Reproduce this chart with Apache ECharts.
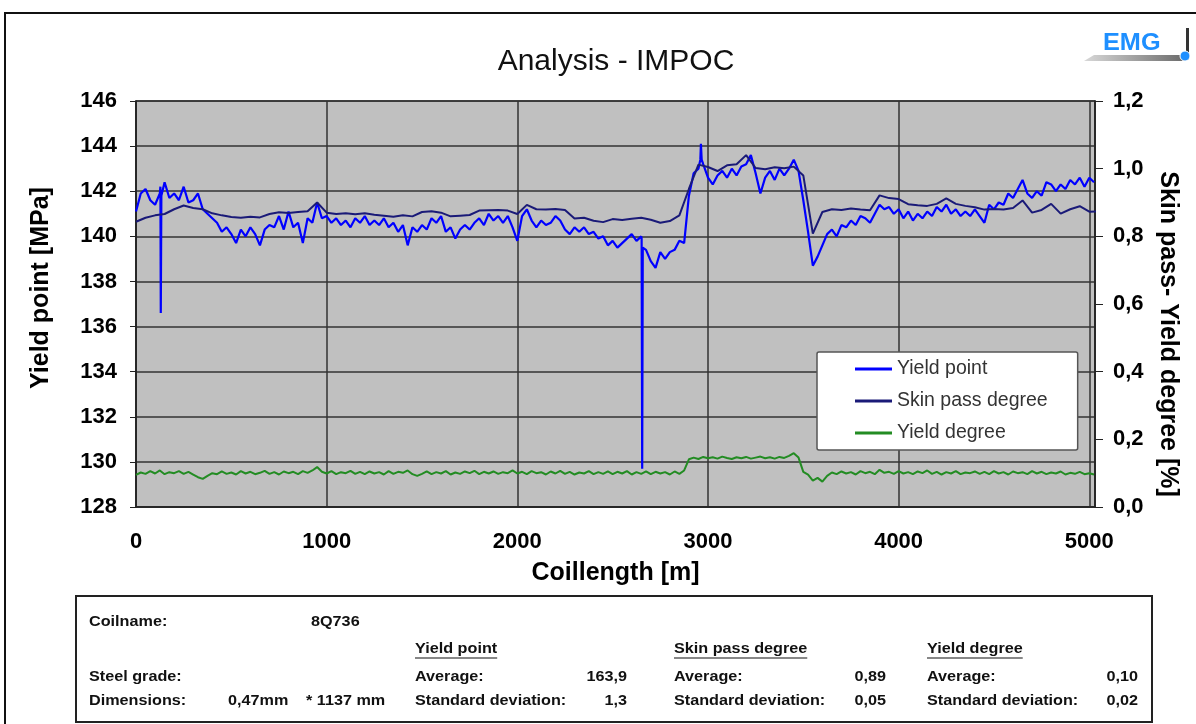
<!DOCTYPE html>
<html>
<head>
<meta charset="utf-8">
<title>Analysis - IMPOC</title>
<script src="https://cdn.jsdelivr.net/npm/echarts@6/dist/echarts.min.js"></script>
<style>
  html, body { margin: 0; padding: 0; background: #fff; }
  #chart { width: 1196px; height: 724px; }
</style>
</head>
<body>
<div id="chart"></div>
<script>
// coil length step of the sampled series [m]
const YP_STEP = 25;
const SP_STEP = 50;
const YD_STEP = 25;

// Yield point [MPa], one value every 25 m
const yieldPoint = [
  141.1, 141.9, 142.1, 141.6, 141.4, 141.9, 142.4, 141.7, 141.9, 141.6,
  142.2, 141.5, 141.6, 141.9, 141.2, 141.0, 140.8, 140.6, 140.2, 140.4,
  140.1, 139.7, 140.3, 140.0, 140.4, 140.1, 139.6, 140.3, 140.5, 140.4,
  140.9, 140.3, 141.1, 140.4, 140.6, 139.7, 140.8, 140.6, 141.5, 140.8,
  140.9, 140.6, 140.8, 140.5, 140.7, 140.4, 140.8, 140.6, 140.9, 140.5,
  140.7, 140.5, 140.8, 140.4, 140.6, 140.2, 140.5, 139.6, 140.4, 140.2,
  140.5, 140.3, 140.8, 140.6, 140.9, 140.2, 140.4, 139.9, 140.3, 140.5,
  140.3, 140.6, 140.8, 140.5, 141.0, 140.7, 140.9, 140.6, 140.9, 140.4,
  139.8, 140.9, 141.2, 140.7, 140.4, 140.7, 140.5, 140.6, 140.9, 140.7,
  140.3, 140.1, 140.4, 140.2, 140.4, 140.1, 140.2, 139.9, 140.0, 139.6,
  139.8, 139.5, 139.7, 139.9, 140.1, 139.8, 140.0, 139.4, 138.9, 138.6,
  139.3, 139.0, 139.3, 139.4, 139.8, 139.7, 141.8, 142.8, 143.0, 143.2,
  142.6, 142.3, 142.7, 142.9, 142.6, 143.0, 142.7, 143.1, 143.2, 143.6,
  142.8, 141.9, 142.6, 142.9, 142.5, 143.0, 142.7, 143.0, 143.4, 142.9,
  141.6, 140.2, 138.7, 139.1, 139.6, 140.1, 140.3, 140.0, 140.5, 140.4,
  140.7, 140.5, 140.9, 140.8, 140.6, 141.0, 141.4, 141.2, 141.3, 141.0,
  141.2, 140.8, 141.1, 140.7, 141.0, 140.8, 141.1, 140.9, 141.3, 141.1,
  141.4, 141.0, 141.2, 140.9, 141.1, 140.9, 141.2, 140.9, 140.6, 141.4,
  141.2, 141.5, 141.4, 141.9, 141.7, 142.1, 142.5, 141.9, 141.7, 142.0,
  141.8, 142.4, 142.3, 142.0, 142.3, 142.1, 142.5, 142.3, 142.6, 142.2,
  142.6, 142.4
];
// narrow spikes of the yield point signal: [coil length m, MPa]
const yieldPointSpikes = [
  [128, 142.2], [130, 136.6], [133, 141.8],
  [2652, 139.9], [2655, 129.7], [2658, 139.5],
  [2960, 143.4], [2963, 144.1], [2967, 143.4]
];

// Skin pass degree [%], one value every 50 m
const skinPass = [
  0.843, 0.855, 0.862, 0.866, 0.880, 0.891, 0.884, 0.880, 0.868, 0.862,
  0.857, 0.855, 0.858, 0.856, 0.866, 0.871, 0.869, 0.872, 0.874, 0.900,
  0.870, 0.866, 0.868, 0.865, 0.868, 0.864, 0.861, 0.858, 0.862, 0.859,
  0.872, 0.874, 0.870, 0.859, 0.861, 0.863, 0.876, 0.877, 0.878, 0.876,
  0.866, 0.893, 0.880, 0.879, 0.881, 0.878, 0.853, 0.855, 0.846, 0.842,
  0.851, 0.848, 0.852, 0.855, 0.849, 0.840, 0.845, 0.862, 0.940, 1.012,
  1.005, 0.993, 1.010, 1.013, 1.040, 1.002, 0.998, 1.004, 1.001, 1.006,
  0.980, 0.808, 0.872, 0.880, 0.878, 0.882, 0.879, 0.877, 0.921, 0.913,
  0.910, 0.895, 0.892, 0.890, 0.896, 0.912, 0.896, 0.890, 0.886, 0.879,
  0.881, 0.879, 0.884, 0.906, 0.870, 0.878, 0.896, 0.867, 0.880, 0.889,
  0.873, 0.874
];

// Yield degree [%], one value every 25 m
const yieldDegree = [
  0.095, 0.102, 0.098, 0.106, 0.099, 0.108, 0.097, 0.103, 0.100, 0.106,
  0.098, 0.104, 0.096, 0.088, 0.083, 0.092, 0.100, 0.097, 0.105, 0.098,
  0.102, 0.096, 0.106, 0.099, 0.104, 0.097, 0.101, 0.107, 0.098, 0.103,
  0.096, 0.105, 0.100, 0.104, 0.097, 0.106, 0.101, 0.108, 0.118, 0.104,
  0.099, 0.106, 0.097, 0.103, 0.100, 0.107, 0.098, 0.104, 0.097, 0.105,
  0.099, 0.103, 0.096, 0.106, 0.098, 0.104, 0.101, 0.108, 0.097, 0.092,
  0.098, 0.105, 0.097, 0.103, 0.099, 0.106, 0.096, 0.102, 0.098, 0.105,
  0.100, 0.107, 0.097, 0.104, 0.099, 0.105, 0.098, 0.103, 0.100, 0.108,
  0.099, 0.104, 0.097, 0.106, 0.100, 0.103, 0.096, 0.105, 0.099, 0.107,
  0.098, 0.104, 0.096, 0.102, 0.099, 0.106, 0.097, 0.103, 0.098, 0.105,
  0.097, 0.104, 0.099, 0.106, 0.096, 0.103, 0.098, 0.105, 0.097, 0.104,
  0.099, 0.103, 0.096, 0.105, 0.098, 0.108,
  0.141,
  0.146, 0.142, 0.148, 0.144, 0.147, 0.143, 0.149, 0.145, 0.142, 0.147,
  0.144, 0.148, 0.143, 0.146, 0.149, 0.144, 0.147, 0.143, 0.148, 0.145,
  0.151, 0.159, 0.146,
  0.104, 0.096, 0.078, 0.086, 0.075, 0.092, 0.102,
  0.097, 0.105, 0.099, 0.103, 0.096, 0.106, 0.100, 0.104, 0.097, 0.110,
  0.101, 0.104, 0.098, 0.106, 0.099, 0.103, 0.097, 0.105, 0.100, 0.108,
  0.098, 0.104, 0.096, 0.103, 0.099, 0.106, 0.097, 0.102, 0.100, 0.105,
  0.098, 0.104, 0.097, 0.106, 0.099, 0.103, 0.096, 0.105, 0.100, 0.103,
  0.097, 0.106, 0.099, 0.104, 0.097, 0.102, 0.099, 0.105, 0.096, 0.101,
  0.098, 0.104, 0.097, 0.100, 0.096
];

// summary table below the chart
const coilName = '8Q736';
const coilDimensions = ['0,47mm', '* 1137 mm'];
const statHeaders = ['Yield point', 'Skin pass degree', 'Yield degree'];
const statAverages = ['163,9', '0,89', '0,10'];
const statDeviations = ['1,3', '0,05', '0,02'];

const FONT = '"Liberation Sans", Arial, sans-serif';
const TABLE_FONT = 'bold 15px "Liberation Sans", Arial, sans-serif';
const TABLE_SCALE = 1.08;

const ypData = yieldPoint.map((v, i) => [i * YP_STEP, v])
  .concat(yieldPointSpikes)
  .sort((a, b) => a[0] - b[0]);
const spData = skinPass.map((v, i) => [i * SP_STEP, v]);
const ydData = yieldDegree.map((v, i) => [i * YD_STEP, v]);

const measure = document.createElement('canvas').getContext('2d');
measure.font = TABLE_FONT;

function cell(text, x, y, align) {
  return {
    type: 'text', x, y, scaleX: TABLE_SCALE, silent: true,
    style: { text, font: TABLE_FONT, fill: '#111', align: align || 'left', verticalAlign: 'middle' }
  };
}

const labelX = [415, 674, 927];
const valueX = [627, 886, 1138];
const tableGraphics = [
  { type: 'rect', shape: { x: 76, y: 596, width: 1076, height: 126 }, style: { fill: '#fff', stroke: '#222', lineWidth: 2 } },
  cell('Coilname:', 89, 622),
  cell(coilName, 311, 622),
  cell('Steel grade:', 89, 677),
  cell('Dimensions:', 89, 701),
  cell(coilDimensions[0], 228, 701),
  cell(coilDimensions[1], 306, 701)
];
statHeaders.forEach((h, k) => {
  tableGraphics.push(cell(h, labelX[k], 649));
  tableGraphics.push({
    type: 'line', silent: true,
    shape: { x1: labelX[k], y1: 658, x2: labelX[k] + measure.measureText(h).width * TABLE_SCALE, y2: 658 },
    style: { stroke: '#111', lineWidth: 1.2 }
  });
  tableGraphics.push(cell('Average:', labelX[k], 677));
  tableGraphics.push(cell(statAverages[k], valueX[k], 677, 'right'));
  tableGraphics.push(cell('Standard deviation:', labelX[k], 701));
  tableGraphics.push(cell(statDeviations[k], valueX[k], 701, 'right'));
});

const logoGraphics = [
  { type: 'polygon', silent: true, shape: { points: [[1084, 61], [1094, 55], [1186, 55], [1186, 61]] },
    style: { fill: { type: 'linear', x: 0, y: 0, x2: 1, y2: 0, colorStops: [{ offset: 0, color: '#d8d8d8' }, { offset: 1, color: '#6a6a6a' }] } } },
  { type: 'rect', silent: true, shape: { x: 1186, y: 28, width: 3, height: 32 }, style: { fill: '#333' } },
  { type: 'circle', silent: true, shape: { cx: 1185, cy: 56, r: 5 }, style: { fill: '#1e8fff', stroke: '#fff', lineWidth: 1 } },
  { type: 'text', silent: true, x: 1103, y: 32, scaleX: 1.1,
    style: { text: 'EMG', font: 'bold 23px "Liberation Sans", Arial, sans-serif', fill: '#1e8fff' } }
];

const chart = echarts.init(document.getElementById('chart'), null, { renderer: 'canvas' });

const axisText = { fontFamily: FONT, fontSize: 22, fontWeight: 'bold', color: '#000' };
const nameText = { fontFamily: FONT, fontSize: 25, fontWeight: 'bold', color: '#000' };

chart.setOption({
  animation: false,
  backgroundColor: '#fff',
  title: {
    text: 'Analysis - IMPOC',
    left: 611,
    top: 42,
    textAlign: 'center',
    textStyle: { fontFamily: FONT, fontSize: 30, fontWeight: 'normal', color: '#111' }
  },
  legend: {
    orient: 'vertical',
    left: 817,
    top: 352,
    padding: [7, 30, 7, 38],
    itemGap: 12,
    itemWidth: 37,
    itemHeight: 3,
    icon: 'rect',
    backgroundColor: '#fff',
    borderColor: '#555',
    borderWidth: 1.5,
    borderRadius: 2,
    textStyle: { fontFamily: FONT, fontSize: 19.5, color: '#333' },
    data: ['Yield point', 'Skin pass degree', 'Yield degree']
  },
  grid: {
    left: 136, right: 101, top: 101, bottom: 217,
    show: true, backgroundColor: '#c0c0c0', borderColor: '#333', borderWidth: 1.5
  },
  xAxis: {
    type: 'value',
    min: 0, max: 5030, interval: 1000,
    name: 'Coillength [m]',
    nameLocation: 'middle',
    nameGap: 54,
    nameTextStyle: nameText,
    axisLine: { show: true, lineStyle: { color: '#222', width: 1.5 } },
    axisTick: { show: false },
    axisLabel: Object.assign({ margin: 24, formatter: v => (v % 1000 === 0 ? String(v) : '') }, axisText),
    splitLine: { show: true, lineStyle: { color: '#333', width: 1.5 } }
  },
  yAxis: [
    {
      type: 'value',
      min: 128, max: 146, interval: 2,
      name: 'Yield point [MPa]',
      nameLocation: 'middle',
      nameRotate: 90,
      nameGap: 82,
      nameTextStyle: Object.assign({ padding: [0, 0, 0, 32] }, nameText),
      axisLine: { show: true, lineStyle: { color: '#222', width: 1.5 } },
      axisTick: { show: true, length: 6, lineStyle: { color: '#222' } },
      axisLabel: Object.assign({ margin: 19 }, axisText),
      splitLine: { show: true, lineStyle: { color: '#333', width: 1.5 } }
    },
    {
      type: 'value',
      position: 'right',
      min: 0, max: 1.2, interval: 0.2,
      name: 'Skin pass- Yield degree [%]',
      nameLocation: 'middle',
      nameRotate: -90,
      nameGap: 60,
      nameTextStyle: Object.assign({ padding: [0, 0, 0, 60] }, nameText),
      axisLine: { show: true, lineStyle: { color: '#222', width: 1.5 } },
      axisTick: { show: true, length: 8, lineStyle: { color: '#222' } },
      axisLabel: Object.assign({ margin: 18, formatter: v => v.toFixed(1).replace('.', ',') }, axisText),
      splitLine: { show: false }
    }
  ],
  series: [
    {
      name: 'Yield point', type: 'line', yAxisIndex: 0,
      data: ypData, showSymbol: false,
      itemStyle: { color: '#0000ff' },
      lineStyle: { color: '#0000ff', width: 2.2 }
    },
    {
      name: 'Skin pass degree', type: 'line', yAxisIndex: 1,
      data: spData, showSymbol: false,
      itemStyle: { color: '#1a1a78' },
      lineStyle: { color: '#1a1a78', width: 2 }
    },
    {
      name: 'Yield degree', type: 'line', yAxisIndex: 1,
      data: ydData, showSymbol: false,
      itemStyle: { color: '#238c23' },
      lineStyle: { color: '#238c23', width: 2 }
    }
  ],
  graphic: [
    { type: 'rect', silent: true, z: -1, shape: { x: 5, y: 13, width: 1200, height: 720 }, style: { fill: 'none', stroke: '#111', lineWidth: 2 } }
  ].concat(logoGraphics, tableGraphics)
});
</script>
</body>
</html>
